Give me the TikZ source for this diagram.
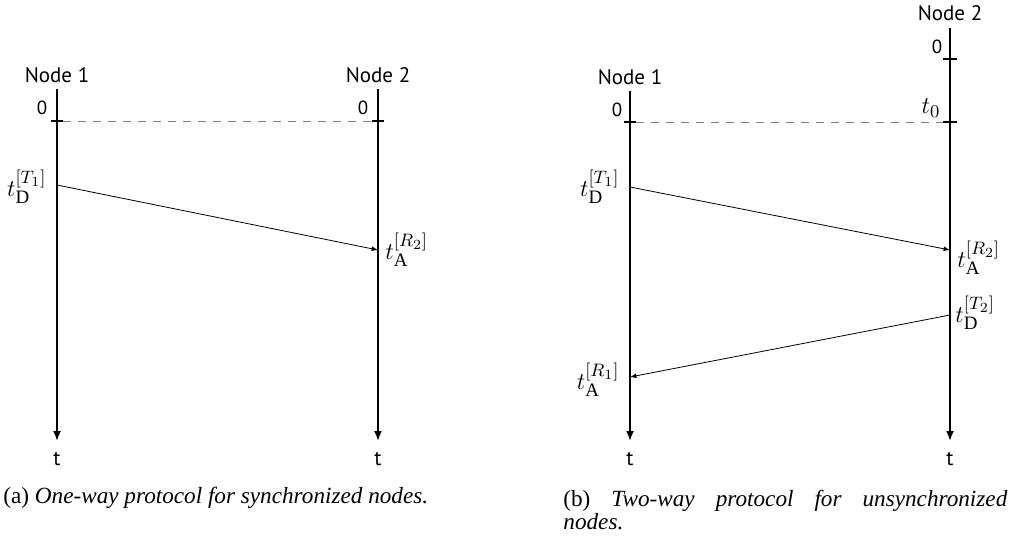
\documentclass[tikz,border=0pt]{standalone}
\usepackage{fontspec}
\setmainfont{Liberation Serif}
\newfontfamily\labelfont{PT Sans}
\usetikzlibrary{arrows.meta}
\DeclareMathSizes{12.5}{12.5}{9.5}{7}
\begin{document}
\begin{tikzpicture}[x=0.5pt,y=-0.5pt,
  axis/.style={line width=0.9pt,-{Latex[length=5pt,width=4pt]}},
  msg/.style={line width=0.4pt,-{Latex[length=3.2pt,width=2.4pt]}},
  tickmark/.style={line width=0.8pt},
  sync/.style={gray,line width=0.5pt,dash pattern=on 4pt off 3.5pt},
  lbl/.style={font=\labelfont\fontsize{10.5}{12}\selectfont,inner sep=0pt},
  zlbl/.style={font=\labelfont\fontsize{9.5}{11}\selectfont,inner sep=0pt},
  mlbl/.style={font=\fontsize{12.5}{14}\selectfont,inner sep=0pt},
  captext/.style={font=\fontsize{11.6}{11.5}\selectfont,inner sep=0pt}]
\useasboundingbox (0,0) rectangle (1014,543);

% ---------- (a) ----------
\coordinate (a1top) at (57,89);
\coordinate (a1bot) at (57,441);
\coordinate (a2top) at (378,89);
\coordinate (a2bot) at (378,441);
\coordinate (a1z) at (57,121);
\coordinate (a2z) at (378,121);
\coordinate (a1s) at (57,185);
\coordinate (a2r) at (378,250);

\node[lbl] (an1) at (57,75) {Node 1};
\node[lbl] (an2) at (378,75) {Node 2};
\draw[axis] (a1top) -- (a1bot);
\draw[axis] (a2top) -- (a2bot);
\node[lbl] (at1) at (57,459) {t};
\node[lbl] (at2) at (378,459) {t};

\draw[tickmark] ([xshift=-3pt]a1z) -- ([xshift=3pt]a1z);
\draw[tickmark] ([xshift=-3pt]a2z) -- ([xshift=3pt]a2z);
\draw[sync] ([xshift=3pt]a1z) -- ([xshift=-3pt]a2z);
\node[zlbl] (a0l) at (42,108) {0};
\node[zlbl] (a0r) at (363,108) {0};

\draw[msg] (a1s) -- (a2r);
\node[mlbl,anchor=east] (atd) at (47,187) {$t_{\mathrm{D}}^{[T_1]}$};
\node[mlbl,anchor=west] (ata) at (385,250) {$t_{\mathrm{A}}^{[R_2]}$};

\node[captext,anchor=base west] (capa) at (3,503) {(a) \textit{One-way protocol for synchronized nodes.}};

% ---------- (b) ----------
\coordinate (b1top) at (630,91);
\coordinate (b1bot) at (630,441);
\coordinate (b2top) at (950,28);
\coordinate (b2bot) at (950,441);
\coordinate (b1z) at (630,122);
\coordinate (b2z) at (950,59);
\coordinate (b2t) at (950,122);
\coordinate (b1s) at (630,187);
\coordinate (b2r) at (950,250);
\coordinate (b2s) at (950,315);
\coordinate (b1r) at (630,377);

\node[lbl] (bn1) at (630,77) {Node 1};
\node[lbl] (bn2) at (950,13) {Node 2};
\draw[axis] (b1top) -- (b1bot);
\draw[axis] (b2top) -- (b2bot);
\node[lbl] (bt1) at (630,459) {t};
\node[lbl] (bt2) at (950,459) {t};

\draw[tickmark] ([xshift=-3pt]b1z) -- ([xshift=3pt]b1z);
\draw[tickmark] ([xshift=-3.5pt]b2z) -- ([xshift=3.5pt]b2z);
\draw[tickmark] ([xshift=-3.5pt]b2t) -- ([xshift=3.5pt]b2t);
\draw[sync] ([xshift=3pt]b1z) -- ([xshift=-3.5pt]b2t);
\node[zlbl] (b0l) at (617,110) {0};
\node[zlbl] (b0r) at (937,47) {0};
\node[mlbl] (bt0) at (931,108) {$t_0$};

\draw[msg] (b1s) -- (b2r);
\draw[msg] (b2s) -- (b1r);
\node[mlbl,anchor=east] (btd1) at (620,187) {$t_{\mathrm{D}}^{[T_1]}$};
\node[mlbl,anchor=west] (bta2) at (957,258) {$t_{\mathrm{A}}^{[R_2]}$};
\node[mlbl,anchor=west] (btd2) at (955,313) {$t_{\mathrm{D}}^{[T_2]}$};
\node[mlbl,anchor=east] (bta1) at (620,380) {$t_{\mathrm{A}}^{[R_1]}$};

\node[captext,anchor=north west,text width=222pt,align=justify,
      font=\fontsize{11.6}{11.2}\selectfont] (capb) at (563,490)
  {(b) \textit{Two-way protocol for unsynchronized}\linebreak \textit{nodes.}};
\end{tikzpicture}
\end{document}
